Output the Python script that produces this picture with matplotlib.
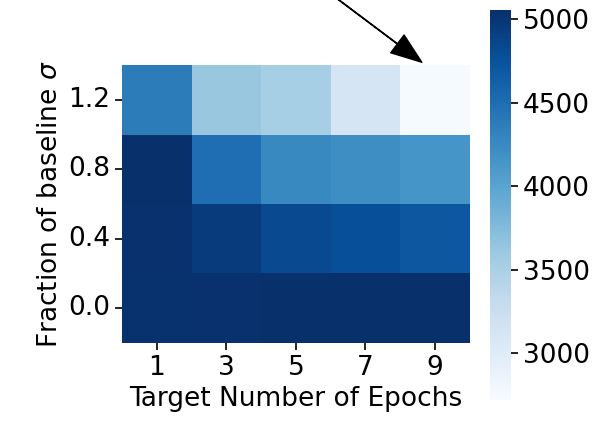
import numpy as np
import matplotlib
matplotlib.use("Agg")
import matplotlib.pyplot as plt
import seaborn as sns

epochs = ["1", "3", "5", "7", "9"]
sigma = ["1.2", "0.8", "0.4", "0.0"]
row_12 = [4380, 3630, 3540, 3120, 2745]
row_08 = [5050, 4495, 4260, 4215, 4145]
row_04 = [5040, 4950, 4830, 4780, 4700]
row_00 = [5035, 5045, 5050, 5050, 5050]
values = np.array([row_12, row_08, row_04, row_00])

plt.rcParams['font.family'] = ['DejaVu Sans']
fig = plt.figure(figsize=(6.07, 4.25), dpi=100)
ax = fig.add_axes([0.201, 0.193, 0.573, 0.654])
cax = fig.add_axes([0.807, 0.059, 0.0346, 0.918])

sns.heatmap(values, ax=ax, cbar_ax=cax, cmap="Blues", vmin=2720, vmax=5055,
            xticklabels=epochs, yticklabels=sigma)
ax.tick_params(axis='both', labelsize=19, length=5, width=1.2, rotation=0)
ax.set_xlabel("Target Number of Epochs", fontsize=19)
ax.set_ylabel(r"Fraction of baseline $\sigma$", fontsize=19)
cax.tick_params(labelsize=19, length=5, width=1.2)
cax.set_yticks([3000, 3500, 4000, 4500, 5000])
for s in cax.spines.values():
    s.set_visible(False)

ax.annotate("", xy=(4.31, -0.04), xytext=(3.06, -0.98), xycoords='data',
            annotation_clip=False,
            arrowprops=dict(facecolor='black', edgecolor='black', width=0.3,
                            headwidth=16, headlength=22, shrink=0))

fig.savefig("out.png", dpi=100)
